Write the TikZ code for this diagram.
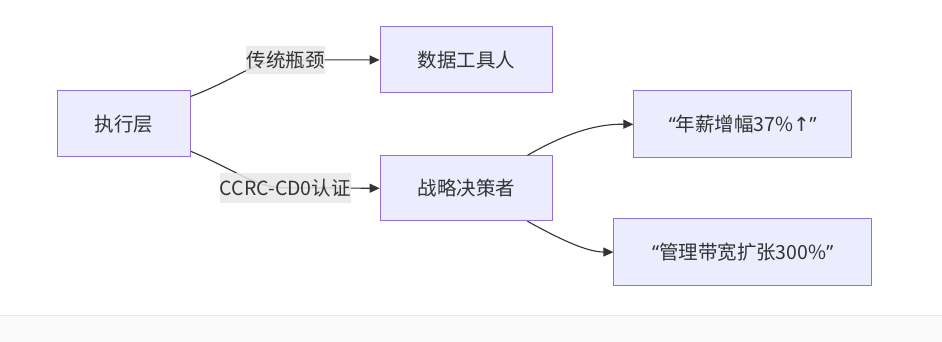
\documentclass[tikz,border=0pt]{standalone}
\usepackage{fontspec}
\setmainfont{Noto Sans CJK SC}
\newfontfamily\latq{Noto Sans}
\newfontfamily\symf{DejaVu Sans}
\usetikzlibrary{arrows.meta,calc}
\definecolor{nodefill}{HTML}{ECECFF}
\definecolor{nodeline}{HTML}{9370DB}
\definecolor{txt}{HTML}{333333}
\definecolor{lblbg}{HTML}{E8E8E8}
\definecolor{band}{HTML}{FAFAFA}
\definecolor{bandline}{HTML}{E5E5E5}
\begin{document}
\begin{tikzpicture}[x=1pt,y=-1pt,
  box/.style={draw=nodeline, fill=nodefill, line width=1pt, inner sep=0pt, text=txt, font=\fontsize{19.5}{22}\selectfont},
  lbl/.style={fill=lblbg, fill opacity=0.85, text opacity=1, inner sep=0pt, text=txt, font=\fontsize{19.5}{22}\selectfont},
  edge/.style={draw=txt, line width=1.1pt, -{Triangle[length=10pt,width=9pt]}}
]
\fill[white] (0,0) rectangle (942,342);
\fill[band] (0,316) rectangle (942,342);
\draw[bandline, line width=1pt] (0,316) -- (942,316);
\useasboundingbox (0,0) rectangle (942,342);

\node[box, minimum width=133pt, minimum height=66pt] (a) at (123.5,124) {执行层};
\node[box, minimum width=173pt, minimum height=66pt] (b) at (466.5,60) {数据工具人};
\node[box, minimum width=173pt, minimum height=65pt] (c) at (466.5,188.5) {战略决策者};
\node[box, minimum width=218pt, minimum height=67pt] (d) at (743,124.5) {{\latq “}年薪增幅37\%{\symf ↑}{\latq ”}};
\node[box, minimum width=258pt, minimum height=67pt] (e) at (743,252.5) {{\latq “}管理带宽扩张300\%{\latq ”}};

\coordinate (a1) at ($(a.north east)+(0,6)$);
\coordinate (a2) at ($(a.south east)+(0,-6)$);
\coordinate (m1) at (285.5,60);
\coordinate (m2) at (285,188);
\coordinate (c3) at ($(c.north)+(61,0)$);
\coordinate (c4) at ($(c.south)+(61,0)$);

\draw[edge] (a1) .. controls (235,80) and (255,60) .. (m1) -- (b.west);
\draw[edge] (a2) .. controls (235,170) and (255,188) .. (m2) -- (c.west);
\draw[edge] (c3) .. controls (570,131) and (600,124) .. (d.west);
\draw[edge] (c4) .. controls (570,245) and (590,252) .. (e.west);

\node[lbl, minimum width=79pt, minimum height=28pt] (l1) at (m1) {传统瓶颈};
\node[lbl, minimum width=130pt, minimum height=30pt] (l2) at (m2) {CCRC-CD0认证};
\end{tikzpicture}
\end{document}
